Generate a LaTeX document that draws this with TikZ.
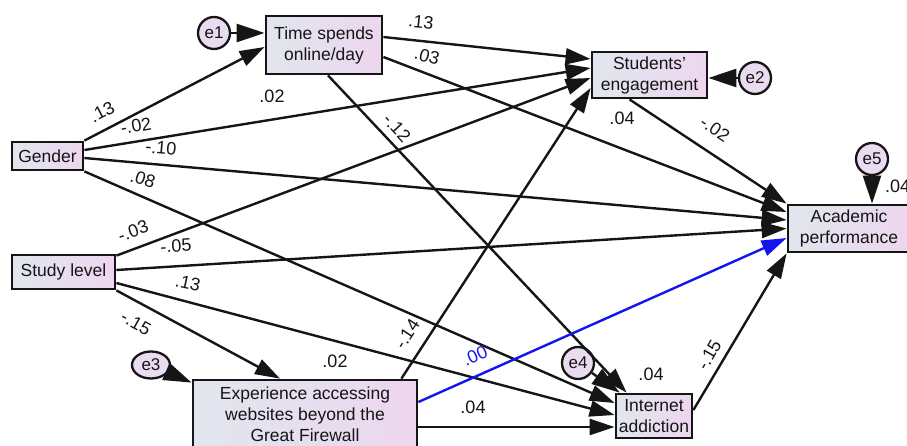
\documentclass[tikz,border=0pt]{standalone}
\usepackage{fontspec}
\setmainfont{Liberation Sans}
\usetikzlibrary{arrows.meta,shapes.geometric}
\definecolor{boxL}{HTML}{E1E6EE}
\definecolor{boxR}{HTML}{EDD6EF}
\definecolor{errF}{HTML}{E9DCF0}
\definecolor{ink}{HTML}{151515}
\definecolor{pathblue}{HTML}{1414EE}
\begin{document}
\begin{tikzpicture}[x=1pt,y=-1pt,
  var/.style={draw=ink, line width=2.8pt, left color=boxL, right color=boxR, text=ink, align=center,
    font=\fontsize{17.5}{21}\selectfont, inner sep=0pt},
  err/.style={circle, draw=ink, line width=2.3pt, fill=errF, text=ink,
    font=\fontsize{17}{20}\selectfont, inner sep=0pt, minimum size=32pt},
  reg/.style={draw=ink, line width=2.4pt, -{Triangle[length=25pt,width=16pt]}},
  errarrow/.style={draw=ink, line width=2.4pt, -{Triangle[length=28pt,width=18pt]}},
  wt/.style={text=ink, font=\fontsize{18}{20}\selectfont, inner sep=0pt},
]
\useasboundingbox (0,0) rectangle (907,446);

% variables
\node[var, minimum width=116pt, minimum height=58pt] (time) at (324,45) {Time spends\\online/day};
\node[var, minimum width=115pt, minimum height=46pt] (eng) at (649.5,75) {Students'\\engagement};
\node[var, minimum width=71pt, minimum height=28pt] (gender) at (47.5,156) {Gender};
\node[var, minimum width=103pt, minimum height=34pt] (study) at (63.5,272) {Study level};
\node[var, minimum width=224pt, minimum height=68pt] (exp) at (305,414) {Experience accessing\\websites beyond the\\Great Firewall};
\node[var, minimum width=76pt, minimum height=44pt] (ia) at (654,416) {Internet\\addiction};
\node[var, minimum width=122pt, minimum height=47pt] (acad) at (849,228.5) {Academic\\performance};

% errors
\node[err] (e1) at (214,33) {e1};
\node[err] (e2) at (755,78) {e2};
\node[err, ellipse, minimum width=38pt, minimum height=27pt] (e3) at (151,365) {e3};
\node[err] (e4) at (578,363) {e4};
\node[err] (e5) at (872,159) {e5};

% error paths
\draw[errarrow] (e1) -- ([yshift=12pt]time.west);
\draw[errarrow] (e2) -- ([yshift=-3pt]eng.east);
\draw[errarrow] (e3) -- ([yshift=-4pt]exp.north west);
\draw[errarrow] (e4) -- ([xshift=5pt]ia.north west);
\draw[errarrow] (e5) -- ([xshift=23pt]acad.north);

% structural paths
\draw[reg] (gender.north east) -- ([yshift=-2pt]time.west);
\draw[reg] ([yshift=6pt]gender.east) -- ([yshift=7pt]eng.west);
\draw[reg] ([yshift=-2pt]gender.east) -- ([yshift=8.5pt]acad.west);
\draw[reg] (gender.south east) -- ([yshift=13pt]ia.west);

\draw[reg] ([yshift=8pt]time.east) -- ([yshift=16pt]eng.west);
\draw[reg] ([yshift=-12pt]time.east) -- ([yshift=16.5pt]acad.west);
\draw[reg] ([xshift=4pt]time.south) -- ([xshift=12pt]ia.north west);

\draw[reg] ([yshift=-2pt]study.north east) -- ([yshift=-3pt]eng.west);
\draw[reg] ([yshift=2pt]study.east) -- (acad.west);
\draw[reg] ([yshift=-11pt]study.east) -- ([yshift=1pt]ia.west);
\draw[reg] (study.south east) -- ([xshift=-25pt]exp.north);

\draw[reg] ([xshift=-17pt]exp.north east) -- ([yshift=-13pt]eng.west);
\draw[reg, draw=pathblue, -{Triangle[length=25pt,width=16pt,fill=pathblue]}] ([yshift=12pt]exp.east) -- ([yshift=-9.5pt]acad.west);
\draw[reg] ([yshift=-13pt]exp.east) -- ([yshift=-11pt]ia.west);

\draw[reg] ([yshift=6pt]ia.east) -- (acad.south west);
\draw[reg] ([xshift=-20pt]eng.south) -- (acad.north west);

% weights
\node[wt, rotate=27] (l1) at (102,112) {.13};
\node[wt, rotate=10] (l2) at (136,126) {-.02};
\node[wt, rotate=-5] (l3) at (161,148) {-.10};
\node[wt, rotate=-18] (l4) at (143,179) {.08};
\node[wt] (l5) at (272,96) {.02};
\node[wt, rotate=-6] (l6) at (421,22) {.13};
\node[wt, rotate=-15] (l7) at (427,56) {.03};
\node[wt, rotate=-47] (l8) at (397,128) {-.12};
\node[wt] (l9) at (622,118) {.04};
\node[wt, rotate=-34] (l10) at (715,129) {-.02};
\node[wt, anchor=west] (l11) at (885,186) {.04};
\node[wt, rotate=20] (l12) at (133,231) {-.03};
\node[wt, rotate=4] (l13) at (176,246) {-.05};
\node[wt, rotate=-12] (l14) at (188,283) {.13};
\node[wt, rotate=-29] (l15) at (136,323) {-.15};
\node[wt] (l16) at (335,361) {.02};
\node[wt, rotate=57] (l17) at (407,334) {-.14};
\node[wt, rotate=24, text=pathblue] (l18) at (475,356) {.00};
\node[wt] (l19) at (651,374) {.04};
\node[wt] (l20) at (473,407) {.04};
\node[wt, rotate=60] (l21) at (709,355) {-.15};
\end{tikzpicture}
\end{document}
